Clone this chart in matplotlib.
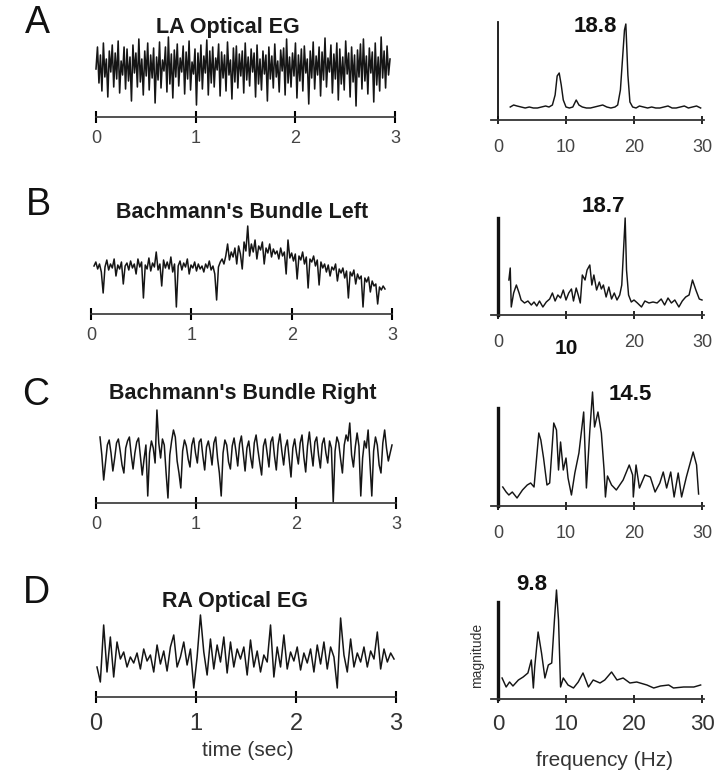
import numpy as np
import matplotlib
matplotlib.use("Agg")
import matplotlib.pyplot as plt

plt.rcParams['font.family'] = ['Liberation Sans', 'DejaVu Sans']

# ---------------- data ----------------
panel_letters = ["A", "B", "C", "D"]
panel_titles = ["LA Optical EG", "Bachmann's Bundle Left",
                "Bachmann's Bundle Right", "RA Optical EG"]
peak_labels = ["18.8", "18.7", "14.5", "9.8"]
time_ticks = [0, 1, 2, 3]
time_tick_labels = ["0", "1", "2", "3"]
freq_ticks = [0, 10, 20, 30]
freq_tick_labels = ["0", "10", "20", "30"]

# optical signals (amplitude, arbitrary units)
sig_A = [48, 70, 34, 62, 26, 74, 40, 58, 20, 66, 45, 72, 30, 64, 38, 76, 24, 56, 42, 70,
         28, 68, 36, 60, 16, 72, 44, 64, 30, 78, 35, 58, 22, 66, 41, 74, 27, 62, 39, 69,
         14, 60, 37, 75, 29, 57, 46, 70, 25, 80, 33, 63, 19, 67, 40, 73, 31, 59, 45, 71,
         23, 65, 38, 76, 27, 55, 43, 68, 12, 64, 36, 72, 28, 61, 44, 77, 22, 66, 34, 70,
         30, 59, 47, 73, 21, 65, 39, 62, 26, 75, 42, 57, 18, 69, 35, 71, 29, 63, 41, 66,
         24, 74, 37, 60, 31, 68, 45, 64, 20, 72, 33, 58, 27, 66, 43, 62, 16, 70, 38, 61,
         29, 73, 40, 56, 25, 67, 46, 69, 22, 78, 34, 60, 30, 64, 41, 74, 19, 62, 36, 68,
         26, 71, 44, 58, 13, 66, 39, 75, 28, 61, 42, 70, 21, 65, 37, 79, 30, 59, 45, 72,
         24, 63, 38, 74, 17, 68, 33, 60, 27, 76, 43, 64, 20, 70, 35, 62, 11, 67, 40, 73,
         28, 78, 36, 61, 23, 69, 44, 65, 15, 74, 32, 60, 26, 80, 39, 66, 29, 71, 42, 58]
sig_A_span = [0.0, 2.95]

sig_B = [48, 52, 45, 50, 42, 21, 47, 54, 44, 50, 46, 55, 38, 49, 45, 52, 30, 48, 51, 44,
         53, 46, 50, 40, 55, 47, 52, 16, 49, 45, 56, 43, 51, 47, 62, 44, 50, 28, 54, 46,
         52, 45, 57, 42, 50, 7, 48, 53, 44, 51, 47, 55, 40, 49, 46, 52, 43, 50, 45, 48,
         42, 50, 46, 53, 44, 48, 40, 14, 47, 52, 55, 50, 58, 70, 54, 62, 57, 66, 50, 68,
         60, 45, 72, 63, 88, 58, 70, 62, 74, 55, 68, 64, 72, 50, 66, 61, 70, 57, 65, 60,
         63, 55, 66, 58, 62, 40, 74, 56, 61, 53, 60, 35, 58, 54, 62, 50, 57, 26, 55, 52,
         58, 48, 54, 29, 52, 46, 50, 42, 49, 38, 47, 44, 50, 33, 45, 41, 46, 36, 43, 16,
         42, 38, 44, 30, 40, 35, 38, 7, 36, 32, 37, 22, 33, 28, 30, 10, 27, 24, 28, 25]
sig_B_span = [0.03, 2.93]

sig_C = [66, 48, 23, 40, 58, 63, 50, 32, 45, 60, 64, 52, 38, 30, 55, 62, 66, 48, 34, 50,
         61, 65, 46, 28, 44, 58, 7, 50, 62, 55, 40, 93, 60, 45, 64, 58, 30, 5, 48, 62,
         73, 66, 42, 30, 15, 52, 63, 57, 44, 36, 58, 65, 50, 40, 61, 64, 47, 33, 56, 62,
         52, 38, 60, 66, 45, 30, 7, 50, 63, 58, 41, 34, 57, 65, 52, 37, 59, 67, 49, 32,
         55, 62, 46, 35, 60, 68, 53, 40, 28, 57, 64, 50, 36, 61, 66, 47, 33, 58, 69, 52,
         38, 56, 63, 45, 26, 55, 64, 50, 39, 60, 68, 46, 31, 57, 71, 52, 37, 61, 66, 48,
         35, 59, 65, 50, 40, 62, 55, 1, 52, 66, 60, 44, 30, 58, 68, 62, 80, 48, 36, 56,
         70, 57, 7, 45, 62, 55, 73, 40, 7, 52, 66, 58, 38, 30, 60, 73, 55, 42, 50, 58]
sig_C_span = [0.04, 2.96]

sig_D = [30, 15, 72, 25, 60, 20, 55, 38, 45, 30,
         40, 34, 44, 28, 48, 36, 42, 25, 52, 33,
         46, 26, 50, 62, 30, 40, 55, 32, 48, 9,
         40, 82, 45, 22, 58, 28, 52, 35, 60, 24,
         55, 30, 48, 38, 50, 22, 57, 30, 46, 25,
         42, 35, 72, 20, 50, 30, 62, 28, 45, 36,
         50, 27, 44, 34, 48, 25, 52, 33, 55, 28,
         50, 40, 9, 79, 42, 25, 58, 30, 44, 35,
         50, 30, 46, 38, 65, 28, 48, 35, 44, 38]
sig_D_span = [0.01, 2.98]

# spectra (frequency in Hz, magnitude in arbitrary units)
freq_A = [1.8, 2.3, 2.8, 3.4, 4.0, 4.6, 5.2, 5.8, 6.4, 7.0, 7.5, 8.0, 8.4, 8.7, 9.0,
          9.3, 9.6, 10.0, 10.5, 11.0, 11.5, 11.9, 12.4, 13.0, 13.6, 14.2, 14.8, 15.4,
          16.0, 16.6, 17.2, 17.6, 18.0, 18.3, 18.6, 18.8, 19.1, 19.4, 19.8, 20.3, 20.8,
          21.4, 22.0, 22.6, 23.2, 23.8, 24.4, 25.0, 25.6, 26.2, 26.8, 27.4, 28.0, 28.6,
          29.2, 29.8]
mag_A = [13, 15, 14, 13, 12, 13, 12, 12, 13, 14, 13, 15, 25, 44, 47,
         35, 20, 13, 12, 13, 20, 15, 13, 12, 12, 13, 14, 15,
         13, 12, 13, 15, 30, 60, 90, 96, 45, 18, 13, 12, 14,
         13, 12, 13, 12, 12, 13, 14, 12, 12, 13, 14, 12, 13,
         14, 12]

freq_B = [1.6, 1.8, 1.95, 2.3, 2.7, 3.1, 3.4, 3.9, 4.4, 4.9, 5.3, 5.7, 6.1, 6.6, 7.1,
          7.6, 8.0, 8.4, 8.8, 9.2, 9.6, 10.0, 10.4, 10.8, 11.1, 11.5, 11.8, 12.1, 12.4,
          12.8, 13.1, 13.5, 13.8, 14.1, 14.5, 14.9, 15.2, 15.5, 15.9, 16.3, 16.7, 17.1,
          17.5, 17.9, 18.2, 18.5, 18.7, 18.9, 19.2, 19.6, 20.0, 20.5, 21.1, 21.6, 22.2,
          22.8, 23.4, 24.0, 24.5, 25.0, 25.5, 26.0, 26.6, 27.1, 27.6, 28.1, 28.6, 29.1,
          29.6, 30.0]
mag_B = [35, 47, 8, 22, 30, 22, 15, 12, 14, 10, 13, 9, 14, 8, 13,
         16, 22, 14, 20, 17, 25, 15, 22, 26, 14, 27, 20, 12, 40,
         35, 45, 50, 30, 40, 25, 33, 26, 30, 18, 28, 16, 22,
         15, 20, 30, 70, 97, 45, 20, 13, 15, 12, 8, 14, 12,
         13, 12, 16, 10, 17, 12, 15, 8, 14, 18, 20, 35, 25,
         16, 15]

freq_C = [0.7, 1.2, 1.6, 2.1, 2.8, 3.6, 4.3, 4.8, 5.3, 6.0, 6.3, 6.7, 7.2, 7.6, 8.2,
          8.6, 8.9, 9.2, 9.6, 10.0, 10.3, 10.8, 11.3, 11.9, 12.6, 13.0, 13.5, 13.9,
          14.2, 14.7, 15.2, 15.6, 15.8, 16.1, 16.7, 17.4, 18.4, 19.3, 19.8, 19.9, 20.3,
          20.8, 21.6, 22.4, 23.1, 23.8, 24.3, 24.8, 25.4, 25.9, 26.5, 27.0, 27.7, 28.7,
          29.2, 29.5]
mag_C = [19, 14, 11, 14, 8, 16, 21, 23, 19, 73, 66, 48, 21, 23, 83,
         76, 36, 64, 36, 48, 28, 11, 33, 53, 94, 18, 75, 114,
         79, 94, 73, 36, 9, 30, 21, 16, 26, 41, 31, 9, 41,
         18, 31, 29, 14, 23, 34, 18, 34, 9, 33, 9, 29, 54,
         41, 12]

freq_D = [0.6, 1.2, 1.7, 2.2, 3.0, 3.7, 4.4, 4.9, 5.2, 5.4, 5.9, 6.4, 6.9, 7.4, 7.9,
          8.3, 8.6, 8.9, 9.2, 9.6, 10.3, 11.1, 11.8, 12.5, 13.3, 14.0, 15.0, 15.7,
          16.7, 17.5, 18.4, 19.4, 20.4, 21.9, 22.9, 23.9, 25.1, 25.8, 27.3, 28.8, 29.8]
mag_D = [21, 12, 17, 13, 19, 22, 26, 39, 11, 32, 67, 46, 21, 34, 36,
         79, 109, 79, 12, 21, 14, 11, 17, 26, 12, 19, 16, 19,
         27, 19, 21, 16, 17, 14, 11, 13, 14, 11, 12, 12, 14]

# ---------------- layout ----------------
W, H = 728, 771
fig = plt.figure(figsize=(W / 100, H / 100), dpi=100)


def axes_px(x_lo, x_hi, d_lo, d_hi, base, span):
    ax = fig.add_axes([x_lo / W, 1 - base / H, (x_hi - x_lo) / W, span / H])
    ax.set_xlim(d_lo, d_hi)
    ax.set_ylim(0, span)
    ax.patch.set_alpha(0)
    return ax


def ftext(x, y, s, **kw):
    fig.text(x / W, 1 - y / H, s, ha=kw.pop('ha', 'center'), va=kw.pop('va', 'center'), **kw)


INK = '#151515'

signals = [(sig_A, sig_A_span), (sig_B, sig_B_span), (sig_C, sig_C_span), (sig_D, sig_D_span)]
spectra = [(freq_A, mag_A), (freq_B, mag_B), (freq_C, mag_C), (freq_D, mag_D)]

# per-panel pixel geometry
trace_geo = [  # x at t=0, x at t=3, baseline y
    (96, 395, 117), (91, 392, 314), (96, 396, 503), (96, 396, 697)]
trace_lw = [1.15, 1.1, 1.1, 1.1]
spec_geo = [  # baseline y, y-axis height, spine width
    (120, 98, 1.3), (315, 97, 2.4), (506, 98, 2.4), (699, 97, 2.4)]
letter_pos = [(37, 23), (38, 205), (36, 395), (36, 593)]
title_pos = [(228, 27), (242, 213), (243, 393), (235, 602)]
peak_pos = [(595, 27), (603, 207), (630, 395), (532, 585)]

for i in range(4):
    # -------- time trace --------
    x0, x3, base = trace_geo[i]
    ax = axes_px(x0, x3, 0, 3, base, 100)
    vals, span = signals[i]
    t = np.linspace(span[0], span[1], len(vals))
    ax.plot(t, vals, color=INK, lw=trace_lw[i], clip_on=False)
    for s in ['top', 'right', 'left']:
        ax.spines[s].set_visible(False)
    ax.spines['bottom'].set_linewidth(1.2)
    ax.spines['bottom'].set_color('#333333')
    ax.set_yticks([])
    ax.set_xticks(time_ticks)
    if i == 3:
        ax.set_xticklabels(time_tick_labels, fontsize=17, color='#333333')
        ax.tick_params(axis='x', direction='inout', length=9, width=1.5, pad=7)
    else:
        ax.set_xticklabels(time_tick_labels, fontsize=13, color='#444444')
        ax.tick_params(axis='x', direction='inout', length=9, width=1.5, pad=5)

    # -------- spectrum --------
    sbase, sh, slw = spec_geo[i]
    pxhz = 6.8
    ax2 = axes_px(498 - 1.0 * pxhz, 498 + 30.3 * pxhz, -1.0, 30.3, sbase, 130)
    fr, mg = spectra[i]
    ax2.plot(fr, mg, color=INK, lw=1.05, clip_on=False)
    for s in ['top', 'right']:
        ax2.spines[s].set_visible(False)
    ax2.spines['left'].set_position(('data', 0))
    ax2.spines['left'].set_bounds(0, sh)
    ax2.spines['left'].set_linewidth(slw)
    ax2.spines['left'].set_color('#111111')
    ax2.spines['bottom'].set_linewidth(1.3)
    ax2.spines['bottom'].set_color('#333333')
    ax2.set_yticks([])
    ax2.set_xticks(freq_ticks)
    if i == 3:
        ax2.set_xticklabels(freq_tick_labels, fontsize=16, color='#333333')
        ax2.tick_params(axis='x', direction='inout', length=6, width=1.2, pad=8)
    else:
        ax2.set_xticklabels(freq_tick_labels, fontsize=13, color='#444444')
        ax2.tick_params(axis='x', direction='inout', length=6, width=1.2, pad=11)
    if i == 1:
        tk = ax2.xaxis.get_major_ticks()[1]
        tk.label1.set_fontweight('bold')
        tk.label1.set_fontsize(15)
        tk.label1.set_color('#111111')
        tk.set_pad(14)

    # -------- texts --------
    ftext(*letter_pos[i], panel_letters[i], fontsize=27, color='#111111')
    ftext(*title_pos[i], panel_titles[i], fontsize=15.5, fontweight='bold', color='#1a1a1a')
    ftext(*peak_pos[i], peak_labels[i], fontsize=16, fontweight='bold', color='#111111')

ftext(248, 750, "time (sec)", fontsize=15, color='#333333')
ftext(605, 760, "frequency (Hz)", fontsize=15, color='#333333')
ftext(477, 655, "magnitude", fontsize=10, color='#333333', rotation=90)

fig.savefig("out.png", dpi=100)
